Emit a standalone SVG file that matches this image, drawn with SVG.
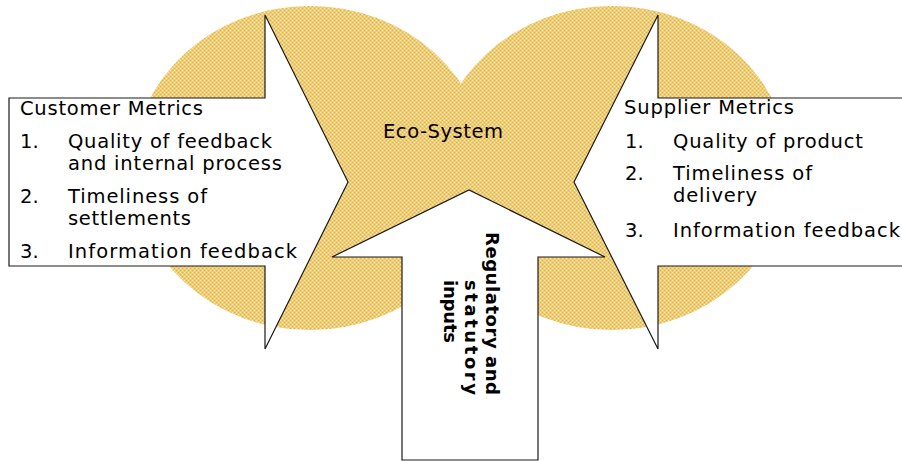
<svg xmlns="http://www.w3.org/2000/svg" width="902" height="461" viewBox="0 0 902 461">
<defs>
<pattern id="dots" width="4" height="4" patternUnits="userSpaceOnUse">
<rect width="4" height="4" fill="#F1CB76"/>
<rect x="0" y="0" width="1" height="1" fill="#FCEBC0"/>
<rect x="2" y="2" width="1" height="1" fill="#FCEBC0"/>
<rect x="2" y="0" width="1" height="1" fill="#E6AE3E"/>
<rect x="0" y="2" width="1" height="1" fill="#E6AE3E"/>
</pattern>
</defs>
<style>
.blob{fill:url(#dots);stroke:none}
.arrow{fill:#fff;stroke:#1a1a1a;stroke-width:1.2;stroke-linejoin:miter}
.t{font-family:"DejaVu Sans","Verdana",sans-serif;font-size:19.5px;fill:#000}
.b{font-family:"DejaVu Sans","Verdana",sans-serif;font-size:18px;font-weight:bold;fill:#000}
</style>
<rect width="902" height="461" fill="#fff"/>
<g id="eco-system">
<ellipse class="blob" cx="310" cy="168" rx="177" ry="162"/>
<ellipse class="blob" cx="612" cy="168" rx="177" ry="162"/>
<text class="t" x="383" y="138" textLength="120" lengthAdjust="spacing">Eco-System</text>
</g>
<g id="customer-metrics">
<polygon class="arrow" points="9,98 265,98 265,15 348,182 265,349 265,266 9,266"/>
<text class="t" x="20" y="115" textLength="183" lengthAdjust="spacing">Customer Metrics</text>
<text class="t" x="20" y="148">1.</text>
<text class="t" x="68" y="148" textLength="204" lengthAdjust="spacing">Quality of feedback</text>
<text class="t" x="68" y="170" textLength="214" lengthAdjust="spacing">and internal process</text>
<text class="t" x="20" y="203">2.</text>
<text class="t" x="68" y="203" textLength="139" lengthAdjust="spacing">Timeliness of</text>
<text class="t" x="68" y="225" textLength="123" lengthAdjust="spacing">settlements</text>
<text class="t" x="20" y="258">3.</text>
<text class="t" x="68" y="258" textLength="229" lengthAdjust="spacing">Information feedback</text>
</g>
<g id="supplier-metrics">
<polygon class="arrow" points="910,98 658,98 658,15 574,182 658,349 658,266 910,266"/>
<text class="t" x="624" y="114" textLength="170" lengthAdjust="spacing">Supplier Metrics</text>
<text class="t" x="625" y="148">1.</text>
<text class="t" x="673" y="148" textLength="190" lengthAdjust="spacing">Quality of product</text>
<text class="t" x="625" y="180">2.</text>
<text class="t" x="673" y="180" textLength="139" lengthAdjust="spacing">Timeliness of</text>
<text class="t" x="673" y="202" textLength="84" lengthAdjust="spacing">delivery</text>
<text class="t" x="625" y="237">3.</text>
<text class="t" x="673" y="237" textLength="227" lengthAdjust="spacing">Information feedback</text>
</g>
<g id="regulatory-inputs">
<polygon class="arrow" points="402,460 402,257 332,257 469,190 605,257 538,257 538,460"/>
<text class="b" transform="translate(486,232) rotate(90)" textLength="163" lengthAdjust="spacing">Regulatory and</text>
<text class="b" transform="translate(465,280) rotate(90)" textLength="115" lengthAdjust="spacing">statutory</text>
<text class="b" transform="translate(444,280) rotate(90)" textLength="63" lengthAdjust="spacing">inputs</text>
</g>
<g id="connectors"/>
</svg>
